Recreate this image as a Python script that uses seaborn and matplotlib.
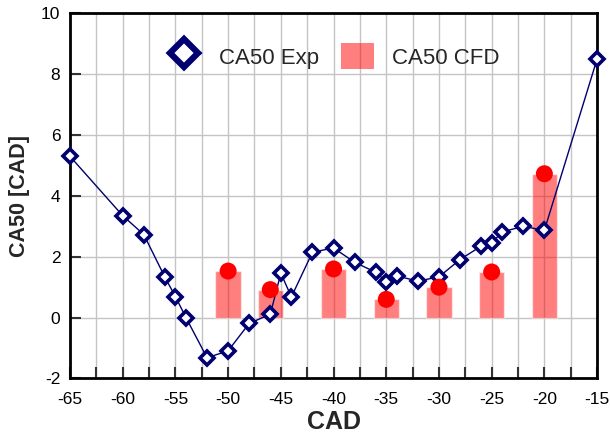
import numpy as np
import pandas as pd
import matplotlib
matplotlib.use("Agg")
import matplotlib.pyplot as plt
import seaborn as sns
from matplotlib.lines import Line2D
from matplotlib.patches import Patch
from matplotlib.ticker import MultipleLocator

# CA50 experiment
exp_cad = [-65, -60, -58, -56, -55, -54, -52, -50, -48, -46, -45, -44, -42, -40,
           -38, -36, -35, -34, -32, -30, -28, -26, -25, -24, -22, -20, -15]
exp_ca50 = [5.3, 3.35, 2.73, 1.33, 0.69, 0.0, -1.32, -1.09, -0.19, 0.11, 1.46, 0.68, 2.15, 2.29,
            1.82, 1.49, 1.18, 1.37, 1.2, 1.34, 1.91, 2.35, 2.45, 2.82, 3.0, 2.87, 8.5]

# CA50 CFD
cfd_cad = [-50, -46, -40, -35, -30, -25, -20]
cfd_ca50 = [1.53, 0.92, 1.6, 0.6, 1.0, 1.5, 4.73]

exp_df = pd.DataFrame({'CAD': exp_cad, 'CA50': exp_ca50})
cfd_df = pd.DataFrame({'CAD': cfd_cad, 'CA50': cfd_ca50})

sns.set_style("white")
plt.rcParams['font.family'] = ['Liberation Sans', 'DejaVu Sans']
plt.rcParams['axes.unicode_minus'] = False

navy = '#000070'

fig = plt.figure(figsize=(6.1, 4.34), dpi=100)
ax = fig.add_axes([0.1148, 0.128, 0.864, 0.841])

ax.bar(cfd_df['CAD'], cfd_df['CA50'], width=2.4, color='red', alpha=0.5, zorder=3)
sns.lineplot(data=exp_df, x='CAD', y='CA50', ax=ax, color=navy, linewidth=1,
             marker='D', markersize=7, markerfacecolor='white', markeredgecolor=navy,
             markeredgewidth=2.6, zorder=4, clip_on=False)
sns.scatterplot(data=cfd_df, x='CAD', y='CA50', ax=ax, color='red', s=150,
                edgecolor='none', zorder=5)

ax.set_xlim(-65, -15)
ax.set_ylim(-2, 10)
ax.xaxis.set_major_locator(MultipleLocator(5))
ax.xaxis.set_minor_locator(MultipleLocator(2.5))
ax.yaxis.set_major_locator(MultipleLocator(2))
ax.grid(True, which='both', axis='x', color='#c4c4c4', linewidth=1, zorder=0)
ax.grid(True, which='major', axis='y', color='#c4c4c4', linewidth=1, zorder=0)
ax.set_axisbelow(True)

ax.tick_params(axis='both', which='both', direction='in', length=8, width=1.5,
               labelsize=12.5, color='#333333', labelcolor='black',
               bottom=True, left=True)
ax.tick_params(axis='x', pad=10)
ax.tick_params(axis='y', pad=7)
for side in ['left', 'bottom', 'top', 'right']:
    ax.spines[side].set_color('black')
    ax.spines[side].set_linewidth(2)

ax.set_xlabel('CAD', fontsize=18, fontweight='bold', labelpad=2)
ax.set_ylabel('CA50 [CAD]', fontsize=15.5, fontweight='bold', labelpad=8)

handles = [
    Line2D([0], [0], color=navy, linewidth=1, marker='D', markersize=14,
           markerfacecolor='white', markeredgecolor=navy, markeredgewidth=4.5),
    Patch(facecolor='red', alpha=0.5, edgecolor='none'),
]
ax.legend(handles, ['CA50 Exp', 'CA50 CFD'], loc='center', bbox_to_anchor=(0.5, 0.883),
          ncol=2, frameon=False, fontsize=16, handlelength=1.5, handleheight=1.4,
          handletextpad=0.8, columnspacing=1.0)

plt.savefig('out.png', dpi=100)
